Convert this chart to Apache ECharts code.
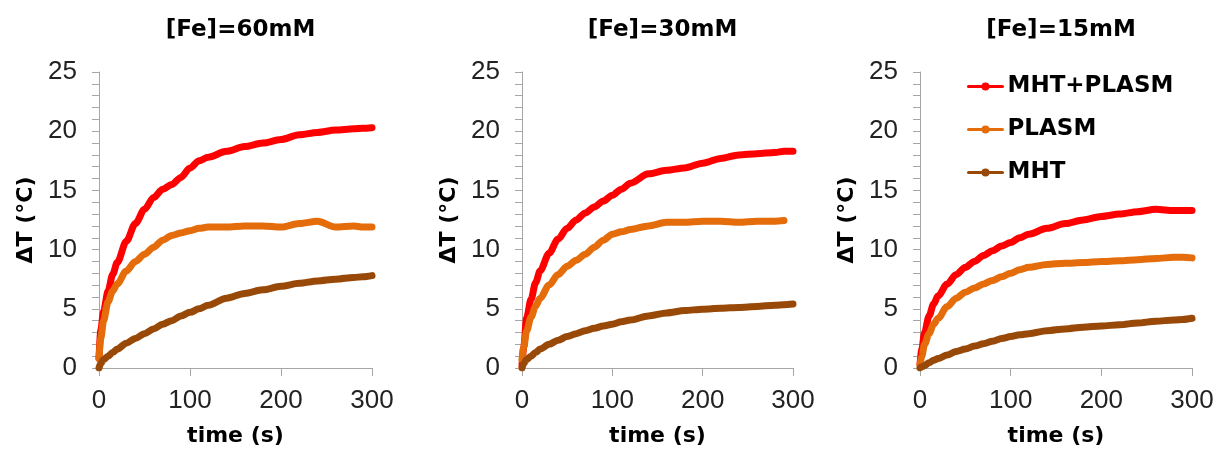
<!DOCTYPE html>
<html>
<head>
<meta charset="utf-8">
<title>Temperature rise vs time</title>
<script src="https://cdn.jsdelivr.net/npm/echarts@6.0.0/dist/echarts.min.js"></script>
<style>
  html, body { margin: 0; padding: 0; background: #fff; }
  #chart { width: 1218px; height: 452px; }
</style>
</head>
<body>
<div id="chart"></div>
<script>
// sample times (s), shared by every curve
var times = [0, 2, 5, 10, 15, 20, 30, 40, 50, 60, 70, 80, 90, 100, 110, 120,
             140, 160, 180, 200, 220, 240, 260, 280, 290, 300];

var panelTitles = ['[Fe]=60mM', '[Fe]=30mM', '[Fe]=15mM'];
var seriesNames = ['MHT+PLASM', 'PLASM', 'MHT'];
var seriesColors = ['#ff0000', '#e46c0a', '#984807'];

// delta T (°C)
var fe60Combined = [0.8, 3.2, 4.8, 6.5, 7.9, 8.9, 10.7, 12.2, 13.4, 14.4, 15.1, 15.5, 16.1, 16.9, 17.5, 17.8,
                    18.3, 18.7, 19.0, 19.3, 19.7, 19.9, 20.1, 20.2, 20.25, 20.3];
var fe60Plasm    = [0.8, 2.5, 4.0, 5.6, 6.5, 7.1, 8.2, 9.0, 9.6, 10.2, 10.8, 11.2, 11.4, 11.6, 11.8, 11.9,
                    11.9, 12.0, 12.0, 11.9, 12.2, 12.4, 11.9, 12.0, 11.9, 11.9];
var fe60Mht      = [0, 0.4, 0.7, 1.0, 1.3, 1.6, 2.1, 2.5, 2.9, 3.3, 3.7, 4.0, 4.4, 4.7, 5.0, 5.3,
                    5.9, 6.3, 6.6, 6.9, 7.15, 7.35, 7.5, 7.65, 7.7, 7.8];

var fe30Combined = [0.2, 1.8, 4.2, 5.8, 7.2, 8.2, 9.7, 10.9, 11.8, 12.5, 13.1, 13.6, 14.1, 14.6, 15.1, 15.6,
                    16.4, 16.7, 16.9, 17.3, 17.7, 18.0, 18.1, 18.2, 18.3, 18.3];
var fe30Plasm    = [0.7, 1.8, 3.1, 4.3, 5.2, 5.9, 7.0, 7.9, 8.6, 9.1, 9.6, 10.2, 10.8, 11.3, 11.5, 11.7,
                    12.0, 12.3, 12.3, 12.4, 12.4, 12.3, 12.4, 12.4, 12.45, null];
var fe30Mht      = [0, 0.4, 0.7, 1.0, 1.3, 1.6, 2.0, 2.35, 2.65, 2.9, 3.15, 3.35, 3.55, 3.7, 3.9, 4.05,
                    4.4, 4.65, 4.85, 4.97, 5.05, 5.12, 5.2, 5.3, 5.35, 5.4];

var fe15Combined = [0.3, 1.6, 3.0, 4.4, 5.4, 6.1, 7.1, 7.9, 8.5, 9.0, 9.5, 9.9, 10.3, 10.6, 11.0, 11.3,
                    11.8, 12.2, 12.5, 12.8, 13.0, 13.2, 13.4, 13.3, 13.3, 13.3];
var fe15Plasm    = [0.3, 1.0, 2.0, 2.9, 3.7, 4.2, 5.2, 5.9, 6.4, 6.75, 7.1, 7.4, 7.7, 8.0, 8.3, 8.5,
                    8.75, 8.85, 8.9, 9.0, 9.05, 9.15, 9.25, 9.35, 9.35, 9.3];
var fe15Mht      = [0, 0.1, 0.2, 0.45, 0.65, 0.8, 1.1, 1.4, 1.6, 1.85, 2.05, 2.25, 2.5, 2.65, 2.8, 2.9,
                    3.15, 3.3, 3.45, 3.55, 3.65, 3.8, 3.95, 4.05, 4.1, 4.2];

var panelData = [
  [fe60Combined, fe60Plasm, fe60Mht],
  [fe30Combined, fe30Plasm, fe30Mht],
  [fe15Combined, fe15Plasm, fe15Mht]
];

// grid boxes in pixels (left, width)
var panelBoxes = [
  { left: 99, width: 273 },
  { left: 522, width: 271 },
  { left: 920, width: 272 }
];

var boldFont = '"DejaVu Sans", sans-serif';
var plainFont = '"Liberation Sans", Arial, sans-serif';
var axisGray = '#a6a6a6';

function toPairs(values) {
  var out = [];
  for (var i = 0; i < times.length; i++) {
    if (values[i] !== null) out.push([times[i], values[i]]);
  }
  return out;
}

var theChart = echarts.init(document.getElementById('chart'), null, { renderer: 'canvas' });

var grids = [], xAxes = [], yAxes = [], titles = [], series = [];

panelBoxes.forEach(function (box, p) {
  grids.push({ left: box.left, width: box.width, top: 72, height: 297 });

  titles.push({
    text: panelTitles[p],
    left: box.left + box.width / 2,
    top: 14,
    textAlign: 'center',
    textStyle: { fontFamily: boldFont, fontWeight: 'bold', fontSize: 23, color: '#000' }
  });

  xAxes.push({
    type: 'value', gridIndex: p, min: 0, max: 300, interval: 100,
    name: 'time (s)', nameLocation: 'middle', nameGap: 57,
    nameTextStyle: { fontFamily: boldFont, fontWeight: 'bold', fontSize: 22, color: '#000' },
    axisLine: { show: true, lineStyle: { color: axisGray, width: 1 } },
    axisTick: { show: true, length: 8, lineStyle: { color: axisGray } },
    axisLabel: { margin: 20, fontFamily: plainFont, fontSize: 26, color: '#222' },
    splitLine: { show: false }
  });

  yAxes.push({
    type: 'value', gridIndex: p, min: 0, max: 25, interval: 5,
    name: 'ΔT (°C)', nameLocation: 'middle', nameGap: 62,
    nameTextStyle: { fontFamily: boldFont, fontWeight: 'bold', fontSize: 22, color: '#000' },
    axisLine: { show: true, lineStyle: { color: axisGray, width: 1 } },
    axisTick: { show: true, length: 7, lineStyle: { color: axisGray } },
    minorTick: { show: true, splitNumber: 5, length: 7, lineStyle: { color: axisGray } },
    axisLabel: { margin: 22, fontFamily: plainFont, fontSize: 26, color: '#222' },
    splitLine: { show: false }
  });

  panelData[p].forEach(function (values, s) {
    series.push({
      name: seriesNames[s],
      type: 'line',
      xAxisIndex: p,
      yAxisIndex: p,
      data: toPairs(values),
      smooth: 0.3,
      smoothMonotone: 'x',
      symbol: 'circle',
      symbolSize: 7,
      showSymbol: false,
      color: seriesColors[s],
      lineStyle: { width: 7, color: seriesColors[s], cap: 'round', join: 'round' },
      itemStyle: { color: seriesColors[s] },
      animation: false
    });
  });
});

var option = {
  animation: false,
  backgroundColor: '#fff',
  title: titles,
  grid: grids,
  xAxis: xAxes,
  yAxis: yAxes,
  legend: {
    data: seriesNames,
    orient: 'vertical',
    left: 962,
    top: 70,
    itemWidth: 34,
    itemHeight: 10,
    itemGap: 20,
    selectedMode: false,
    lineStyle: { width: 3 },
    textStyle: { fontFamily: boldFont, fontWeight: 'bold', fontSize: 23, color: '#000' }
  },
  series: series
};

theChart.setOption(option);
</script>
</body>
</html>
